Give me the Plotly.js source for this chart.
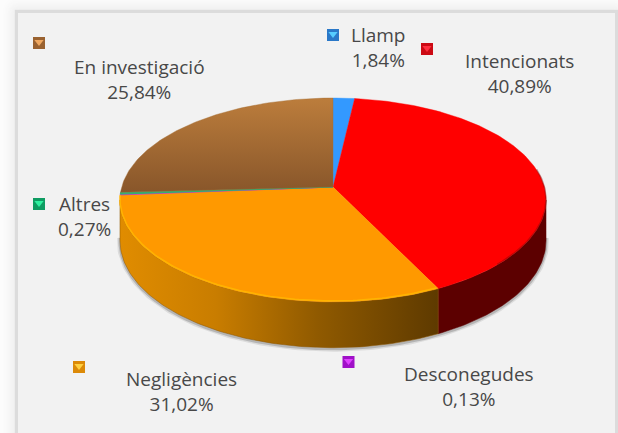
<!DOCTYPE html>
<html>
<head>
<meta charset="utf-8">
<script src="https://cdn.plot.ly/plotly-3.0.1.min.js"></script>
<style>
html,body{margin:0;padding:0;background:#fcfcfc;overflow:hidden}
#panel{position:absolute;left:18px;top:13px;width:597px;height:440px;background:#f2f2f2;box-shadow:0 0 1px 3px #dcdcdc,0 0 9px 8px #efefef}
#chart{position:absolute;left:0;top:0;width:618px;height:433px}
</style>
</head>
<body>
<div id="panel"></div>
<div id="chart"></div>
<script>
// Data
const categories = ["Llamp", "Intencionats", "Negligències", "Desconegudes", "Altres", "En investigació"];
const values = [1.84, 40.89, 31.02, 0.13, 0.27, 25.84];

// Styles and layout (kept apart from the data)
const topColors = ["#3399ff", "#ff0000", "#ff9900", "#d040b0", "#2fb070", "#a56c33"];
const swatchColors = ["#2a78c8", "#cc0a14", "#dc8a08", "#a010c8", "#0f9c62", "#9a6230"];
const swatchLight = ["#55ccff", "#ff3040", "#ffd040", "#e040ff", "#30f0a0", "#f0a860"];
const swatchPos = [[333,35],[427,49],[79,367],[348.5,362],[39,204],[39,43]];
const labelPos = [[378.5,47],[519.5,73.5],[181,391.5],[468.5,386.5],[84.5,216.5],[139,79]];
const FONT = "Open Sans";
const FS = 19;

// Perspective projection of the pie disc
const CX = 333, CY = 187, K = 211.3, F = 100.3, C = 0.127, DEPTH = 40;
function proj(deg, r, down) {
  const t = deg * Math.PI / 180, X = r * Math.sin(t), Y = r * Math.cos(t), w = 1 + C * Y;
  return [CX + K * X / w, CY - F * Y / w + (down ? DEPTH / w : 0)];
}
function arc(a, b, down) {
  const n = Math.max(2, Math.ceil(Math.abs(b - a))), pts = [];
  for (let i = 0; i <= n; i++) pts.push(proj(a + (b - a) * i / n, 1, down));
  return pts;
}
const total = values.reduce((s, v) => s + v, 0);
let run = 0;
const slices = values.map(v => { const a = run / total * 360; run += v; return [a, run / total * 360]; });
const VIS0 = 97.3, VIS1 = 262.7;
const traces = [];
function poly(pts, extra) {
  traces.push(Object.assign({type:"scatter", mode:"lines", x:pts.map(p=>p[0]), y:pts.map(p=>p[1]),
    hoverinfo:"skip", showlegend:false, cliponaxis:false}, extra));
}
// soft shadow below the wall
const shadowPts = arc(VIS0 - 2, VIS1 + 2, true).map(p => [p[0], p[1] + 1]);
poly(shadowPts, {line:{color:"rgba(120,120,120,0.18)", width:6}});
poly(shadowPts, {line:{color:"rgba(110,110,110,0.35)", width:3}});
// side walls
const wallScales = {
  1: [[0,"#5c0000"],[1,"#5c0000"]],
  2: [[0,"#e08c00"],[0.3,"#c97d00"],[0.62,"#905a00"],[1,"#5e3a00"]]
};
[1, 2].forEach(i => {
  const a = Math.max(slices[i][0], VIS0), b = Math.min(slices[i][1], VIS1);
  const pts = arc(a, b, false).concat(arc(b, a, true));
  pts.push(pts[0]);
  poly(pts, {fill:"toself", line:{width:0.5, color:i===2?"#8a5500":"#5c0000"},
    fillgradient:{type:"horizontal", colorscale:wallScales[i]}});
});
// top surface
slices.forEach((s, i) => {
  const pts = [[CX, CY]].concat(arc(s[0], s[1], false)); pts.push([CX, CY]);
  const extra = {fill:"toself", fillcolor:topColors[i], line:{width:i===3||i===4?1:0.4, color:topColors[i]}};
  if (i === 5) {
    extra.fillgradient = {type:"vertical", colorscale:[[0,"#88562a"],[1,"#bc7d3c"]]};
    extra.line.color = "#a56c33";
  }
  poly(pts, extra);
});
// bevel highlights on the rim
poly(arc(slices[2][0] + 0.5, VIS1 + 2, false).map(p => [p[0], p[1] - 1]), {line:{color:"#ffb400", width:1.5}});
poly(arc(80, 135, false).map(p => [p[0], p[1] - 0.5]), {line:{color:"rgba(120,0,0,0.4)", width:1.5}});
// legend swatches
traces.push({type:"scatter", mode:"markers", x:swatchPos.map(p=>p[0]), y:swatchPos.map(p=>p[1]),
  marker:{symbol:"square", size:12, color:swatchColors, line:{width:0}}, hoverinfo:"skip", showlegend:false});
traces.push({type:"scatter", mode:"markers", x:swatchPos.map(p=>p[0]), y:swatchPos.map(p=>p[1]-1),
  marker:{symbol:"triangle-down", size:8, color:swatchLight, line:{width:0}}, hoverinfo:"skip", showlegend:false});

const annotations = categories.map((c, i) => ({
  x: labelPos[i][0], y: labelPos[i][1], xref:"x", yref:"y", xanchor:"center", yanchor:"middle",
  text: c + "<br>" + values[i].toFixed(2).replace(".", ",") + "%", showarrow:false, align:"center",
  font:{family:FONT, size:FS, color:"#484848"}
}));
const hidden = {visible:false, fixedrange:true, showgrid:false, zeroline:false};
Plotly.newPlot("chart", traces, {
  width:618, height:433, margin:{l:0,r:0,t:0,b:0},
  paper_bgcolor:"rgba(0,0,0,0)", plot_bgcolor:"rgba(0,0,0,0)",
  xaxis:Object.assign({range:[0,618]}, hidden),
  yaxis:Object.assign({range:[433,0]}, hidden),
  showlegend:false, annotations:annotations
}, {staticPlot:true, displayModeBar:false});
</script>
</body>
</html>
